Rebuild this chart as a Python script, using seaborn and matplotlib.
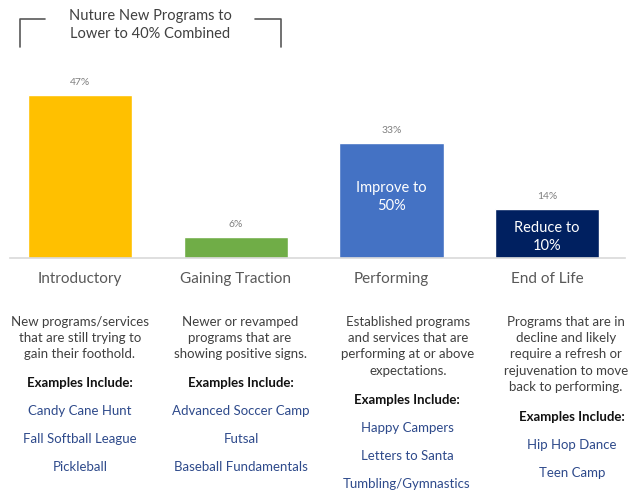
import matplotlib
matplotlib.use("Agg")
import matplotlib.pyplot as plt
import seaborn as sns
import pandas as pd
from matplotlib.lines import Line2D

# ---------------- data ----------------
stages = ["Introductory", "Gaining Traction", "Performing", "End of Life"]
shares = [47, 6, 33, 14]
bar_colors = ["#FFC000", "#70AD47", "#4472C4", "#002060"]
targets = ["", "", "Improve to\n50%", "Reduce to\n10%"]
headline = "Nuture New Programs to\nLower to 40% Combined"

descriptions = [
    "New programs/services\nthat are still trying to\ngain their foothold.",
    "Newer or revamped\nprograms that are\nshowing positive signs.",
    "Established programs\nand services that are\nperforming at or above\nexpectations.",
    "Programs that are in\ndecline and likely\nrequire a refresh or\nrejuvenation to move\nback to performing.",
]
examples = [
    ["Candy Cane Hunt", "Fall Softball League", "Pickleball"],
    ["Advanced Soccer Camp", "Futsal", "Baseball Fundamentals"],
    ["Happy Campers", "Letters to Santa", "Tumbling/Gymnastics"],
    ["Hip Hop Dance", "Teen Camp"],
]

# ---------------- layout (pixels) ----------------
W, H = 635, 493
desc_x = [80, 240, 408, 566]
exam_x = [80, 241, 407, 572]
target_y = [0, 0, 17.6, 6.0]   # data units, centre of text inside bar


def fx(px):
    return px / W


def fy(py):
    return 1 - py / H


sns.set_theme(style="white")
plt.rcParams["font.family"] = ["Lato", "DejaVu Sans"]

df = pd.DataFrame({"stage": stages, "share": shares})

fig = plt.figure(figsize=(W / 100, H / 100), dpi=100)
ax = fig.add_axes([fx(10), fy(258), fx(615), 198 / H])

sns.barplot(data=df, x="stage", y="share", hue="stage", palette=bar_colors,
            width=0.67, saturation=1, legend=False, ax=ax)

ax.set_xlim(-0.45, 3.5)
ax.set_ylim(0, 198 / 3.47)
ax.set_xlabel("")
ax.set_ylabel("")
ax.set_yticks([])
sns.despine(ax=ax, left=True)
ax.spines["bottom"].set_color("#d9d9d9")
ax.spines["bottom"].set_linewidth(1.2)
ax.tick_params(axis="x", length=0, pad=10, labelsize=11, labelcolor="#595959")

# value labels above bars
for c in ax.containers:
    ax.bar_label(c, fmt="%d%%", padding=6, fontsize=7.5, color="#7f7f7f")

# target labels inside bars
for i, t in enumerate(targets):
    if t:
        ax.text(i, target_y[i], t, ha="center", va="center", color="white",
                fontsize=10.5, linespacing=1.4)

# headline with bracket
fig.text(fx(150), fy(25), headline, ha="center", va="center", fontsize=10.5,
         color="#404040", linespacing=1.3)
bracket = dict(color="#595959", lw=1.2)
fig.add_artist(Line2D([fx(20), fx(20), fx(45)], [fy(47), fy(19), fy(19)], **bracket))
fig.add_artist(Line2D([fx(255), fx(281), fx(281)], [fy(19), fy(19), fy(47)], **bracket))

# descriptions and examples
for i in range(4):
    n = descriptions[i].count("\n") + 1
    fig.text(fx(desc_x[i]), fy(316), descriptions[i], ha="center", va="top",
             fontsize=9.5, color="#404040", linespacing=1.42)
    head_y = 322 + (n - 1) * 17 + 27
    fig.text(fx(exam_x[i]), fy(head_y), "Examples Include:", ha="center", va="center",
             fontsize=9.5, color="#111111", fontweight="bold")
    for k, e in enumerate(examples[i]):
        fig.text(fx(exam_x[i]), fy(head_y + 28 * (k + 1)), e, ha="center", va="center",
                 fontsize=9.5, color="#2E4A8B")

fig.savefig("out.png", dpi=100)
